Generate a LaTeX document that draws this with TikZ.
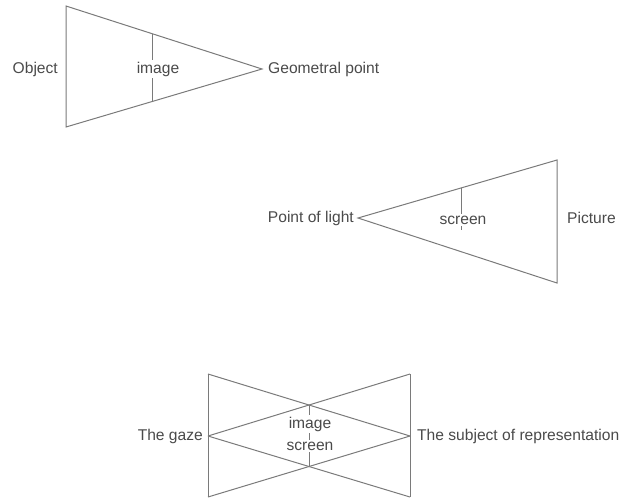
\documentclass[tikz,border=0pt]{standalone}
\usepackage{fontspec}
\setmainfont{Liberation Sans}
\definecolor{linegray}{HTML}{7A7A7A}
\definecolor{textgray}{HTML}{4A4A4A}
\begin{document}
\begin{tikzpicture}[x=1pt,y=-1pt,
  edge/.style={draw=linegray,line width=1pt,line join=miter},
  lbl/.style={text=textgray,font=\fontsize{15.6}{17}\selectfont,inner sep=1pt},
  inlbl/.style={lbl,fill=white,inner sep=1.5pt}]
\useasboundingbox (0,0) rectangle (623,499);
% ---------- triangle 1 ----------
\coordinate (t1a) at (66,6);
\coordinate (t1b) at (66,127);
\coordinate (t1c) at (262,69);
\coordinate (i1t) at (152,33.6);
\coordinate (i1b) at (152,101.5);
\draw[edge] (t1a) -- (t1c) -- (t1b) -- cycle;
\draw[edge] (i1t) -- (i1b);
\node[inlbl] (img1) at (158,69) {image};
\node[lbl,anchor=east] (obj) at (59,69) {Object};
\node[lbl,anchor=west] (geo) at (267,69) {Geometral point};
% ---------- triangle 2 ----------
\coordinate (t2a) at (358,218);
\coordinate (t2b) at (557,160);
\coordinate (t2c) at (557,283);
\coordinate (s2t) at (461,188);
\coordinate (s2b) at (461,230);
\draw[edge] (t2a) -- (t2b) -- (t2c) -- cycle;
\draw[edge] (s2t) -- (s2b);
\node[inlbl] (scr2) at (463,220) {screen};
\node[lbl,anchor=east] (pol) at (355,218) {Point of light};
\node[lbl,anchor=west] (pic) at (566,218) {Picture};
% ---------- bow tie ----------
\coordinate (lt) at (208,374);
\coordinate (lm) at (208,436);
\coordinate (lb) at (208,497);
\coordinate (rt) at (410,374);
\coordinate (rm) at (410,436);
\coordinate (rb) at (410,497);
\coordinate (ct) at (309,405);
\coordinate (cb) at (309,466);
\draw[edge] (lt) -- (lb);
\draw[edge] (rt) -- (rb);
\draw[edge] (lt) -- (rm);
\draw[edge] (lm) -- (rt);
\draw[edge] (lm) -- (rb);
\draw[edge] (lb) -- (rm);
\draw[edge] (ct) -- (cb);
\node[inlbl] (img3) at (310,424) {image};
\node[inlbl] (scr3) at (310,446) {screen};
\node[lbl,anchor=east] (gaze) at (204,436) {The gaze};
\node[lbl,anchor=west] (subj) at (416,436) {The subject of representation};
\end{tikzpicture}
\end{document}
